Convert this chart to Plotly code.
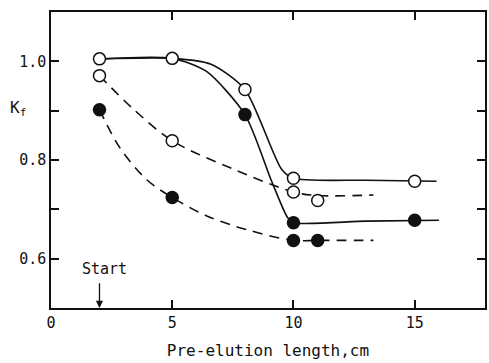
import plotly.graph_objects as go

# Measured points (pre-elution length in cm, Kf)
open_solid_x = [2, 5, 8, 10, 15]
open_solid_y = [1.005, 1.006, 0.943, 0.763, 0.757]
filled_solid_x = [8, 10, 15]
filled_solid_y = [0.892, 0.673, 0.678]
open_dash_x = [2, 5, 10, 11]
open_dash_y = [0.971, 0.839, 0.735, 0.718]
filled_dash_x = [2, 5, 10, 11]
filled_dash_y = [0.902, 0.724, 0.637, 0.637]

# Hand-drawn guide curves through the data
open_solid_cx = [2, 5, 6.6, 8, 9.5, 10, 13, 15.9]
open_solid_cy = [1.005, 1.006, 0.994, 0.943, 0.782, 0.763, 0.759, 0.757]
filled_solid_cx = [2, 5, 6.4, 8, 9.1, 9.75, 10, 13, 16]
filled_solid_cy = [1.005, 1.006, 0.980, 0.892, 0.757, 0.684, 0.673, 0.676, 0.678]
open_dash_cx = [2, 3.4, 5, 7.5, 10, 11, 13.3]
open_dash_cy = [0.971, 0.903, 0.839, 0.782, 0.735, 0.728, 0.729]
filled_dash_cx = [2, 2.85, 3.95, 5, 6.5, 8.2, 10, 11, 13.3]
filled_dash_cy = [0.902, 0.824, 0.76, 0.724, 0.685, 0.657, 0.637, 0.637, 0.637]

y_tick_vals = [0.6, 0.7, 0.8, 0.9, 1.0]
y_tick_text = ["0.6", "", "0.8", "", "1.0"]
x_tick_vals = [0, 5, 10, 15]
x_tick_text = ["0", "5", "10", "15"]

INK = "#111111"
FONT = "DejaVu Sans Mono"

fig = go.Figure()

def curve(xs, ys, dash, smooth):
    fig.add_trace(go.Scatter(
        x=xs, y=ys, mode="lines",
        line=dict(color=INK, width=1.6, dash=dash, shape="spline", smoothing=smooth),
        hoverinfo="skip", showlegend=False))

curve(open_solid_cx, open_solid_cy, "solid", 0.7)
curve(filled_solid_cx, filled_solid_cy, "solid", 0.7)
curve(open_dash_cx, open_dash_cy, "10px,7px", 0.9)
curve(filled_dash_cx, filled_dash_cy, "10px,7px", 0.9)

def points(xs, ys, filled):
    fig.add_trace(go.Scatter(
        x=xs, y=ys, mode="markers",
        marker=dict(size=12, color=INK if filled else "white",
                    line=dict(color=INK, width=1.5), symbol="circle"),
        showlegend=False))

points(open_solid_x, open_solid_y, False)
points(filled_solid_x, filled_solid_y, True)
points(open_dash_x, open_dash_y, False)
points(filled_dash_x, filled_dash_y, True)

axis_common = dict(
    showgrid=False, zeroline=False, showline=True, linecolor=INK, linewidth=1.5,
    mirror="ticks", ticks="inside", ticklen=8, tickwidth=1.5, tickcolor=INK,
    tickfont=dict(family=FONT, size=15, color=INK),
)

fig.update_xaxes(range=[0, 17.9], tickvals=x_tick_vals, ticktext=x_tick_text,
                 title=dict(text="Pre-elution length,cm",
                            font=dict(family=FONT, size=16, color=INK), standoff=14),
                 **axis_common)
fig.update_yaxes(range=[0.5, 1.1], tickvals=y_tick_vals, ticktext=y_tick_text,
                 **axis_common)

fig.add_annotation(x=-0.098, xref="paper", xanchor="left", y=0.905, yref="y",
                   text="K<sub>f</sub>", showarrow=False,
                   font=dict(family=FONT, size=16, color=INK))
# "Start" label with a downward arrow onto the x axis at 2 cm
fig.add_annotation(x=2.2, y=0.579, xref="x", yref="y", text="Start",
                   showarrow=False, font=dict(family=FONT, size=15, color=INK))
fig.add_annotation(x=2, y=0.5, ax=2, ay=0.553, xref="x", yref="y",
                   axref="x", ayref="y", text="", showarrow=True,
                   arrowhead=2, arrowsize=1.1, arrowwidth=1.3, arrowcolor=INK,
                   standoff=0)

fig.update_layout(
    width=489, height=363,
    margin=dict(l=51, r=2, t=12, b=55),
    paper_bgcolor="white", plot_bgcolor="white",
)

fig.write_html("out.html")
